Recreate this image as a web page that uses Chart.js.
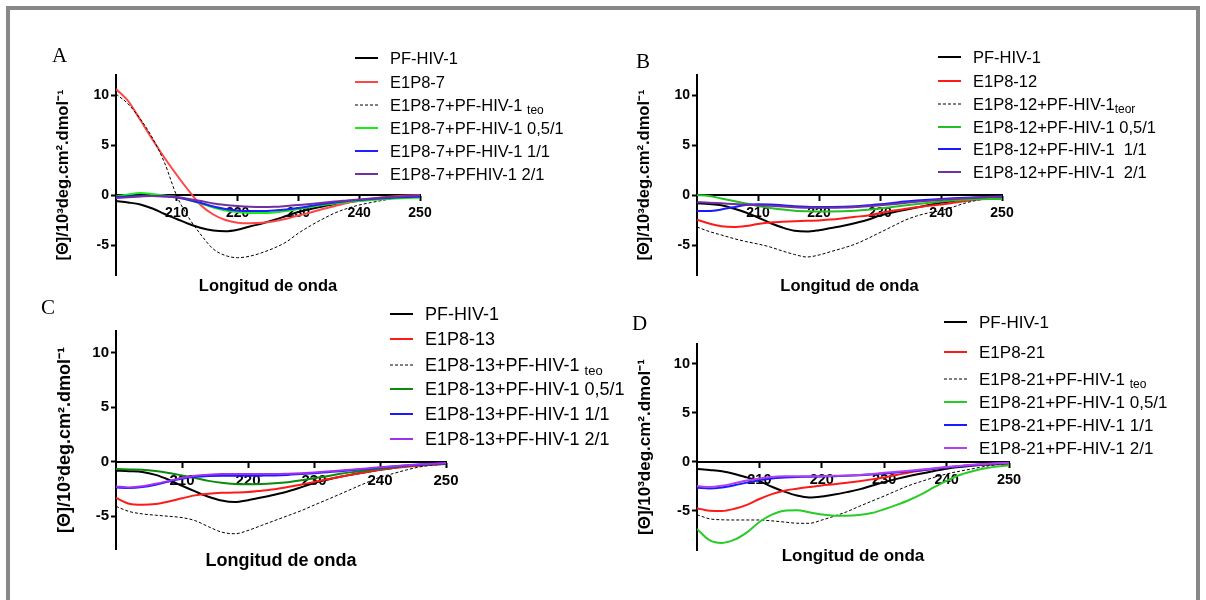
<!DOCTYPE html>
<html>
<head>
<meta charset="utf-8">
<script src="https://cdn.jsdelivr.net/npm/chart.js@4"></script>
<style>
  html, body { margin: 0; padding: 0; background: #fff; }
  #page { position: relative; width: 1206px; height: 600px; overflow: hidden; background: #fff; }
  #frame { position: absolute; left: 6px; top: 6px; width: 1186px; height: 640px; border: 4px solid #888; }
  canvas { position: absolute; }
</style>
</head>
<body>
<div id="page">
  <div id="frame"></div>
  <canvas id="chartA" width="600" height="300" style="left:0;top:0"></canvas>
  <canvas id="chartB" width="600" height="300" style="left:600px;top:0"></canvas>
  <canvas id="chartC" width="640" height="300" style="left:0;top:290px"></canvas>
  <canvas id="chartD" width="600" height="300" style="left:600px;top:290px"></canvas>
</div>
<script>
// wavelength (nm)
const wavelength = [200, 202, 204, 206, 208, 210, 212, 214, 216, 218, 220, 222, 224,
                    226, 228, 230, 232, 234, 236, 238, 240, 242, 244, 246, 248, 250];
const xTicks = [210, 220, 230, 240, 250];
const yTicks = [-5, 0, 5, 10];

// [Θ] / 10^3 deg.cm2.dmol-1
// panel A
const pfHivA   = [-0.6, -0.75, -0.95, -1.35, -1.9, -2.4, -2.9, -3.3, -3.55, -3.63, -3.48, -3.15, -2.85, -2.5, -2.1, -1.7, -1.4, -1.15, -0.9, -0.72, -0.57, -0.43, -0.32, -0.22, -0.13, -0.06];
const e1p8_7   = [10.6, 9.4, 7.5, 5.55, 3.7, 2.0, 0.4, -1.05, -1.95, -2.5, -2.77, -2.83, -2.78, -2.62, -2.38, -2.05, -1.75, -1.4, -1.1, -0.8, -0.55, -0.37, -0.22, -0.12, -0.05, 0];
const e1p8_7T  = [10.1, 9.1, 7.6, 5.7, 3.2, -0.1, -2.3, -4.0, -5.4, -6.05, -6.27, -6.12, -5.77, -5.3, -4.7, -3.82, -3.07, -2.4, -1.8, -1.35, -1.0, -0.75, -0.52, -0.32, -0.2, -0.1];
const e1p8_7R05 = [-0.15, 0.05, 0.2, 0.1, -0.05, -0.2, -0.5, -0.85, -1.25, -1.55, -1.7, -1.8, -1.8, -1.75, -1.6, -1.4, -1.2, -1.0, -0.85, -0.7, -0.6, -0.5, -0.42, -0.35, -0.3, -0.27];
const e1p8_7R1 = [-0.2, -0.15, -0.1, -0.1, -0.15, -0.25, -0.5, -0.8, -1.15, -1.4, -1.55, -1.6, -1.6, -1.55, -1.45, -1.3, -1.1, -0.9, -0.75, -0.6, -0.5, -0.4, -0.32, -0.25, -0.2, -0.18];
const e1p8_7R2 = [-0.3, -0.22, -0.15, -0.1, -0.12, -0.2, -0.4, -0.6, -0.85, -1.0, -1.1, -1.17, -1.2, -1.18, -1.1, -1.0, -0.9, -0.78, -0.65, -0.55, -0.45, -0.35, -0.25, -0.17, -0.1, -0.03];

// panel B
const pfHivB    = [-0.82, -0.9, -1.03, -1.35, -1.75, -2.25, -2.8, -3.25, -3.58, -3.66, -3.52, -3.3, -3.08, -2.8, -2.47, -2.05, -1.75, -1.5, -1.25, -1.0, -0.78, -0.6, -0.45, -0.35, -0.27, -0.22];
const e1p8_12   = [-2.47, -2.85, -3.12, -3.2, -3.1, -2.9, -2.75, -2.68, -2.62, -2.58, -2.55, -2.45, -2.32, -2.18, -2.04, -1.8, -1.58, -1.4, -1.23, -1.08, -0.95, -0.78, -0.6, -0.45, -0.33, -0.23];
const e1p8_12T  = [-3.2, -3.65, -4.0, -4.35, -4.65, -4.9, -5.2, -5.6, -5.95, -6.2, -6.0, -5.65, -5.3, -4.9, -4.35, -3.75, -3.15, -2.55, -2.1, -1.78, -1.55, -1.2, -0.8, -0.52, -0.32, -0.16];
const e1p8_12R05 = [0, -0.1, -0.35, -0.6, -0.85, -1.1, -1.3, -1.45, -1.57, -1.62, -1.64, -1.64, -1.63, -1.58, -1.48, -1.35, -1.2, -1.05, -0.9, -0.78, -0.66, -0.55, -0.48, -0.43, -0.4, -0.4];
const e1p8_12R1 = [-1.6, -1.6, -1.45, -1.22, -1.0, -0.93, -0.95, -1.02, -1.12, -1.18, -1.21, -1.2, -1.17, -1.12, -1.03, -0.93, -0.8, -0.66, -0.56, -0.47, -0.4, -0.33, -0.27, -0.22, -0.18, -0.16];
const e1p8_12R2 = [-0.72, -0.77, -0.83, -0.9, -0.96, -1.02, -1.08, -1.15, -1.22, -1.27, -1.28, -1.28, -1.26, -1.2, -1.13, -1.03, -0.92, -0.8, -0.68, -0.58, -0.48, -0.4, -0.32, -0.25, -0.2, -0.16];

// panel C
const pfHivC    = [-0.82, -0.86, -0.93, -1.2, -1.65, -2.2, -2.72, -3.2, -3.55, -3.69, -3.52, -3.28, -3.02, -2.72, -2.35, -1.95, -1.65, -1.38, -1.15, -0.93, -0.73, -0.56, -0.42, -0.3, -0.22, -0.18];
const e1p8_13   = [-3.32, -3.85, -3.95, -3.88, -3.65, -3.35, -3.08, -2.93, -2.85, -2.82, -2.78, -2.66, -2.52, -2.32, -2.1, -1.85, -1.6, -1.37, -1.15, -0.94, -0.73, -0.58, -0.46, -0.36, -0.28, -0.21];
const e1p8_13T  = [-4.09, -4.56, -4.78, -4.9, -5.0, -5.12, -5.4, -5.95, -6.45, -6.6, -6.3, -5.85, -5.4, -4.95, -4.5, -3.98, -3.47, -2.95, -2.42, -1.9, -1.42, -1.08, -0.75, -0.47, -0.3, -0.18];
const e1p8_13R05 = [-0.67, -0.7, -0.73, -0.85, -1.03, -1.25, -1.48, -1.75, -1.93, -2.03, -2.05, -2.03, -1.97, -1.87, -1.7, -1.5, -1.32, -1.1, -0.93, -0.77, -0.62, -0.5, -0.38, -0.28, -0.22, -0.18];
const e1p8_13R1 = [-2.35, -2.41, -2.32, -2.1, -1.8, -1.55, -1.38, -1.3, -1.28, -1.28, -1.28, -1.27, -1.25, -1.2, -1.12, -1.04, -0.95, -0.86, -0.76, -0.65, -0.54, -0.44, -0.35, -0.27, -0.2, -0.15];
const e1p8_13R2 = [-2.26, -2.35, -2.25, -2.02, -1.75, -1.48, -1.28, -1.18, -1.13, -1.13, -1.13, -1.13, -1.13, -1.1, -1.05, -0.98, -0.9, -0.8, -0.71, -0.61, -0.5, -0.4, -0.31, -0.23, -0.17, -0.12];

// panel D
const pfHivD    = [-0.74, -0.85, -0.98, -1.25, -1.6, -1.98, -2.55, -3.05, -3.45, -3.65, -3.55, -3.35, -3.1, -2.82, -2.45, -2.08, -1.75, -1.45, -1.2, -0.95, -0.72, -0.55, -0.42, -0.32, -0.25, -0.2];
const e1p8_21   = [-4.73, -5.0, -5.02, -4.8, -4.4, -3.8, -3.3, -2.95, -2.75, -2.58, -2.42, -2.3, -2.15, -1.98, -1.8, -1.6, -1.35, -1.1, -0.9, -0.73, -0.58, -0.45, -0.35, -0.28, -0.23, -0.2];
const e1p8_21T  = [-5.4, -5.82, -5.92, -5.94, -5.94, -5.94, -6.03, -6.15, -6.27, -6.28, -5.95, -5.55, -5.1, -4.55, -4.02, -3.5, -2.95, -2.42, -2.0, -1.6, -1.25, -0.98, -0.74, -0.5, -0.3, -0.13];
const e1p8_21R05 = [-6.85, -8.0, -8.28, -7.95, -7.2, -6.15, -5.4, -5.0, -4.95, -5.15, -5.38, -5.5, -5.5, -5.42, -5.23, -4.85, -4.4, -3.9, -3.3, -2.6, -1.95, -1.38, -1.0, -0.7, -0.5, -0.37];
const e1p8_21R1 = [-2.65, -2.72, -2.62, -2.4, -2.13, -1.9, -1.7, -1.62, -1.56, -1.53, -1.5, -1.47, -1.44, -1.38, -1.3, -1.2, -1.1, -0.98, -0.86, -0.72, -0.58, -0.46, -0.36, -0.27, -0.19, -0.13];
const e1p8_21R2 = [-2.48, -2.58, -2.45, -2.2, -1.92, -1.7, -1.55, -1.49, -1.48, -1.48, -1.47, -1.44, -1.41, -1.35, -1.25, -1.13, -1.03, -0.92, -0.8, -0.67, -0.54, -0.43, -0.32, -0.23, -0.16, -0.1];

const sans = '"Liberation Sans", Arial, Helvetica, sans-serif';
const yTitle = '[Θ]/10³deg.cm².dmol⁻¹';
const yAxisWidth = 62;

// letter + legend drawn beside the plot
const panelLegend = {
  id: 'panelLegend',
  afterDraw(chart, args, opts) {
    const ctx = chart.ctx;
    ctx.save();
    ctx.fillStyle = '#000';
    ctx.font = '21px "Liberation Serif", "Times New Roman", serif';
    ctx.textBaseline = 'alphabetic';
    ctx.fillText(opts.letter, opts.letterX, opts.letterY);
    ctx.textBaseline = 'middle';
    chart.data.datasets.forEach((ds, i) => {
      const y = opts.rows[i];
      ctx.beginPath();
      ctx.strokeStyle = ds.borderColor;
      ctx.lineWidth = ds.borderWidth;
      ctx.setLineDash(ds.borderDash || []);
      ctx.moveTo(opts.x, y);
      ctx.lineTo(opts.x + 23, y);
      ctx.stroke();
      ctx.setLineDash([]);
      ctx.font = opts.size + 'px ' + sans;
      const tx = opts.x + 35;
      ctx.fillText(ds.label, tx, y + 1);
      if (ds.sub) {
        const w = ctx.measureText(ds.label).width;
        ctx.font = Math.round(opts.size * 0.7) + 'px ' + sans;
        ctx.fillText(ds.sub, tx + w, y + 6);
      }
    });
    ctx.restore();
  }
};

function series(label, values, color, dashed, sub) {
  return {
    label: label,
    sub: sub,
    data: wavelength.map((w, i) => ({ x: w, y: values[i] })),
    borderColor: color,
    borderWidth: dashed ? 1 : 2,
    borderDash: dashed ? [3, 2] : undefined,
    pointRadius: 0,
    fill: false,
    cubicInterpolationMode: 'monotone'
  };
}

function makePanel(id, spec, datasets) {
  const canvas = document.getElementById(id);
  const W = canvas.width, H = canvas.height;
  const a = spec.area;
  datasets.forEach((d, i) => { d.order = datasets.length - i; });
  const tickFont = { family: sans, size: spec.tickSize, weight: 'bold' };
  const titleFont = { family: sans, size: spec.titleSize, weight: 'bold' };
  const halfLine = spec.titleSize * 1.2 / 2;
  return new Chart(canvas, {
    type: 'line',
    data: { datasets: datasets },
    plugins: [panelLegend],
    options: {
      responsive: false,
      animation: false,
      devicePixelRatio: 1,
      layout: {
        padding: {
          left: a.left - yAxisWidth,
          top: a.top,
          right: W - a.right,
          bottom: H - (spec.titleY + halfLine)
        }
      },
      plugins: {
        legend: { display: false },
        tooltip: { enabled: false },
        panelLegend: spec.legend
      },
      scales: {
        x: {
          type: 'linear',
          min: 200,
          max: 250,
          position: { y: 0 },
          afterBuildTicks: s => { s.ticks = xTicks.map(v => ({ value: v })); },
          grid: { display: true, drawOnChartArea: false, drawTicks: true, tickLength: 5, tickWidth: 2, tickColor: '#000' },
          border: { display: true, color: '#000', width: 2 },
          ticks: { color: '#000', font: tickFont, padding: 5, maxRotation: 0, autoSkip: false }
        },
        x2: {
          type: 'linear',
          axis: 'x',
          min: 200,
          max: 250,
          position: 'bottom',
          grid: { display: false, drawTicks: false },
          border: { display: false },
          ticks: { display: false },
          title: { display: true, text: 'Longitud de onda', color: '#000', font: titleFont, padding: 0 },
          afterFit: s => { s.height = spec.titleY + halfLine - a.bottom; }
        },
        y: {
          type: 'linear',
          min: spec.yMin,
          max: spec.yMax,
          position: 'left',
          afterBuildTicks: s => { s.ticks = yTicks.map(v => ({ value: v })); },
          afterFit: s => { s.width = yAxisWidth; },
          grid: { display: true, drawOnChartArea: false, drawTicks: true, tickLength: 5, tickWidth: 2, tickColor: '#000' },
          border: { display: true, color: '#000', width: 2 },
          ticks: { color: '#000', font: tickFont, padding: 2 },
          title: { display: true, text: yTitle, color: '#000', font: titleFont, padding: 0 }
        }
      }
    }
  });
}

makePanel('chartA', {
  area: { left: 116, top: 75, right: 420, bottom: 275 }, titleY: 286, yMin: -8, yMax: 12,
  tickSize: 14, titleSize: 16.5,
  legend: { letter: 'A', letterX: 52, letterY: 62, x: 355, size: 16.5, rows: [58, 82, 105, 128, 151, 174] }
}, [
  series('PF-HIV-1', pfHivA, '#000000'),
  series('E1P8-7', e1p8_7, '#ff4646'),
  series('E1P8-7+PF-HIV-1 ', e1p8_7T, '#000000', true, 'teo'),
  series('E1P8-7+PF-HIV-1 0,5/1', e1p8_7R05, '#14ee14'),
  series('E1P8-7+PF-HIV-1 1/1', e1p8_7R1, '#1f1fff'),
  series('E1P8-7+PFHIV-1 2/1', e1p8_7R2, '#7030a0')
]);

makePanel('chartB', {
  area: { left: 97, top: 75, right: 402, bottom: 275 }, titleY: 286, yMin: -8, yMax: 12,
  tickSize: 14, titleSize: 16.5,
  legend: { letter: 'B', letterX: 36, letterY: 68, x: 338, size: 16.5, rows: [57, 81, 104, 127, 149, 172] }
}, [
  series('PF-HIV-1', pfHivB, '#000000'),
  series('E1P8-12', e1p8_12, '#ff1a1a'),
  series('E1P8-12+PF-HIV-1', e1p8_12T, '#000000', true, 'teor'),
  series('E1P8-12+PF-HIV-1 0,5/1', e1p8_12R05, '#22c022'),
  series('E1P8-12+PF-HIV-1  1/1', e1p8_12R1, '#1a1aff'),
  series('E1P8-12+PF-HIV-1  2/1', e1p8_12R2, '#7030a0')
]);

makePanel('chartC', {
  area: { left: 116, top: 41, right: 446, bottom: 259 }, titleY: 271, yMin: -8, yMax: 12,
  tickSize: 15, titleSize: 18,
  legend: { letter: 'C', letterX: 41, letterY: 24, x: 390, size: 18, rows: [24, 49, 75, 99, 124, 149] }
}, [
  series('PF-HIV-1', pfHivC, '#000000'),
  series('E1P8-13', e1p8_13, '#ff1a1a'),
  series('E1P8-13+PF-HIV-1 ', e1p8_13T, '#000000', true, 'teo'),
  series('E1P8-13+PF-HIV-1 0,5/1', e1p8_13R05, '#0b8a0b'),
  series('E1P8-13+PF-HIV-1 1/1', e1p8_13R1, '#1a1aff'),
  series('E1P8-13+PF-HIV-1 2/1', e1p8_13R2, '#a030f0')
]);

makePanel('chartD', {
  area: { left: 97, top: 54, right: 409, bottom: 260 }, titleY: 266, yMin: -9, yMax: 12,
  tickSize: 14.5, titleSize: 17,
  legend: { letter: 'D', letterX: 32, letterY: 40, x: 344, size: 17, rows: [32, 62, 89, 112, 135, 158] }
}, [
  series('PF-HIV-1', pfHivD, '#000000'),
  series('E1P8-21', e1p8_21, '#ff1a1a'),
  series('E1P8-21+PF-HIV-1 ', e1p8_21T, '#000000', true, 'teo'),
  series('E1P8-21+PF-HIV-1 0,5/1', e1p8_21R05, '#28cc28'),
  series('E1P8-21+PF-HIV-1 1/1', e1p8_21R1, '#1a1aff'),
  series('E1P8-21+PF-HIV-1 2/1', e1p8_21R2, '#b040f0')
]);
</script>
</body>
</html>
